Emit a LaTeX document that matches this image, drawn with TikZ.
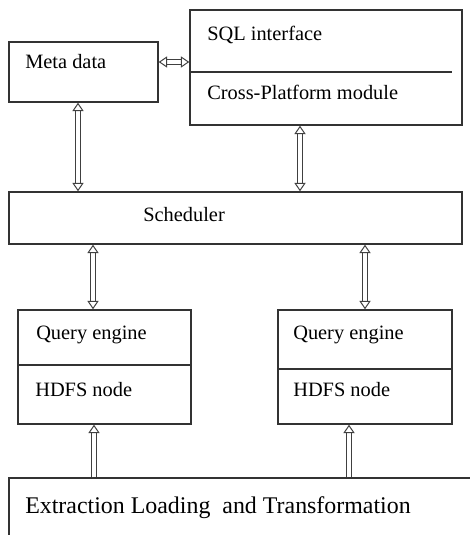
\documentclass[tikz,border=0pt]{standalone}
\usepackage{fontspec}
\setmainfont{Liberation Serif}
\usetikzlibrary{arrows.meta}

\tikzset{
  box/.style={draw=black!80, line width=1pt, inner sep=0pt},
  lbl/.style={anchor=west, inner sep=0pt, font=\fontsize{14.5}{16}\selectfont},
  link/.style={draw=black!75, line width=0.7pt, double, double distance=2.4pt,
    {Triangle[open, width=8pt, length=6pt]}-{Triangle[open, width=8pt, length=6pt]}},
  uplink/.style={draw=black!75, line width=0.7pt, double, double distance=2.4pt,
    -{Triangle[open, width=8pt, length=6pt]}}
}

\begin{document}
\begin{tikzpicture}

\useasboundingbox (0,0) rectangle (11.725,-13.375);

\node[box, minimum width=3.725cm, minimum height=1.5cm] (meta) at (2.0875,-1.8) {};
\node[lbl] (metatxt) at (0.625,-1.55) {Meta data};

\node[box, minimum width=6.8cm, minimum height=2.875cm] (sql) at (8.15,-1.6875) {};
\draw[black!80, line width=1pt] (sql.west |- 0,-1.8) -- (11.3,-1.8);
\node[lbl] (sqltxt) at (5.175,-0.875) {SQL interface};
\node[lbl] (crosstxt) at (5.175,-2.3) {Cross-Platform module};

\node[box, minimum width=11.325cm, minimum height=1.3cm] (sched) at (5.8875,-5.45) {};
\node[lbl] (schedtxt) at (3.575,-5.375) {Scheduler};

\node[box, minimum width=4.325cm, minimum height=2.85cm] (ql) at (2.6125,-9.175) {};
\draw[black!80, line width=1pt] (ql.west |- 0,-9.125) -- (ql.east |- 0,-9.125);
\node[lbl] (qltxt) at (0.9,-8.375) {Query engine};
\node[lbl] (hltxt) at (0.875,-9.75) {HDFS node};

\node[box, minimum width=4.35cm, minimum height=2.85cm] (qr) at (9.125,-9.175) {};
\draw[black!80, line width=1pt] (qr.west |- 0,-9.225) -- (qr.east |- 0,-9.225);
\node[lbl] (qrtxt) at (7.325,-8.375) {Query engine};
\node[lbl] (hrtxt) at (7.325,-9.75) {HDFS node};

\node[box, minimum width=12cm, minimum height=2.5cm] (etl) at (6.225,-13.2) {};
\node[lbl, font=\fontsize{17}{19}\selectfont] (etltxt) at (0.625,-12.7) {Extraction Loading \ and Transformation};

\draw[link] ([yshift=0.25cm]meta.east) -- ([yshift=0.25cm]meta.east -| sql.west);
\draw[link] (meta.south -| 1.95,0) -- (sched.north -| 1.95,0);
\draw[link] (sql.south -| 7.5,0) -- (sched.north -| 7.5,0);
\draw[link] (sched.south -| 2.325,0) -- (ql.north -| 2.325,0);
\draw[link] (sched.south -| qr.north) -- (qr.north);
\draw[uplink] (etl.north -| 2.35,0) -- (ql.south -| 2.35,0);
\draw[uplink] (etl.north -| 8.725,0) -- (qr.south -| 8.725,0);

\end{tikzpicture}
\end{document}
